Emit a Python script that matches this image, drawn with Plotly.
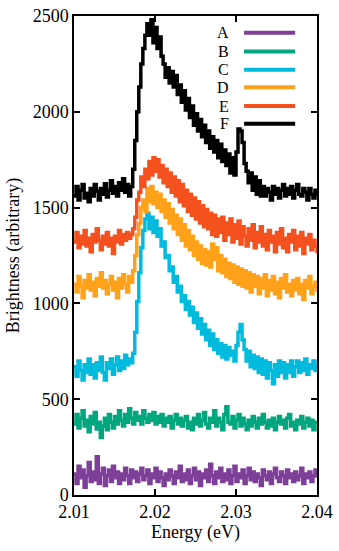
import numpy as np
import plotly.graph_objects as go

# spectra (arbitrary brightness units)
labels = ['A', 'B', 'C', 'D', 'E', 'F']
colors = ['#7e3f98', '#00a67e', '#00bbdd', '#ffa21a', '#f4511e', '#000000']

series_a = [110, 60, 150, 90, 130, 40, 100, 170, 70, 120,
            80, 200, 60, 110, 140, 50, 100, 130, 70, 150,
            90, 120, 60, 110, 80, 140, 100, 60, 130, 90,
            120, 70, 110, 140, 80, 100, 130, 60, 110, 90,
            140, 70, 120, 90, 50, 110, 80, 130, 100, 60,
            120, 90, 150, 70, 110, 80, 130, 60, 100, 140,
            80, 120, 50, 110, 90, 130, 70, 160, 100, 60,
            120, 90, 140, 70, 110, 80, 130, 60, 100, 150,
            70, 110, 90, 130, 60, 100, 140, 80, 120, 70,
            110, 90, 50, 130, 100, 80, 120, 60, 110, 140,
            90, 70, 120, 100, 60, 130, 90, 110, 70, 120,
            80, 100, 140, 60, 110, 90, 120, 70, 100, 130,
            90]

series_b = [370, 420, 350, 400, 440, 360, 390, 330, 410, 370,
            430, 345, 380, 300, 360, 400, 340, 420, 380, 350,
            410, 370, 440, 390, 360, 420, 380, 450, 400, 370,
            430, 390, 410, 370, 440, 400, 380, 420, 390, 430,
            370, 410, 380, 420, 360, 400, 380, 410, 350, 390,
            420, 370, 400, 360, 390, 410, 350, 380, 340, 400,
            370, 420, 360, 390, 430, 370, 350, 400, 380, 440,
            360, 400, 380, 340, 420, 460, 380, 370, 410, 350,
            390, 420, 360, 400, 370, 340, 390, 360, 410, 380,
            350, 400, 370, 420, 380, 350, 390, 360, 400, 340,
            380, 410, 370, 390, 350, 400, 420, 360, 380, 340,
            390, 370, 410, 350, 380, 400, 360, 390, 340, 380,
            370]

series_c = [670, 620, 700, 650, 600, 680, 640, 710, 630, 680,
            610, 690, 650, 720, 640, 600, 690, 660, 710, 630,
            680, 720, 650, 700, 660, 730, 680, 710, 690, 740,
            850, 1010, 1160, 1290, 1380, 1440, 1470, 1390, 1450, 1370,
            1430, 1350, 1390, 1300, 1320, 1240, 1250, 1170, 1190, 1110,
            1140, 1060, 1090, 1010, 1040, 970, 1010, 940, 980, 900,
            950, 870, 920, 840, 890, 810, 860, 780, 840, 760,
            810, 740, 790, 720, 780, 710, 770, 730, 750, 700,
            780, 850, 890, 810, 760, 700, 750, 670, 730, 660,
            720, 640, 710, 630, 700, 610, 690, 650, 580, 680,
            620, 700, 640, 690, 610, 680, 640, 700, 620, 670,
            700, 640, 690, 650, 710, 630, 680, 660, 700, 650,
            690]

series_d = [1100, 1060, 1140, 1090, 1030, 1120, 1080, 1150, 1070, 1110,
            1040, 1130, 1090, 1160, 1080, 1120, 1050, 1100, 1140, 1070,
            1110, 1030, 1130, 1080, 1150, 1100, 1060, 1140, 1110, 1170,
            1250, 1360, 1420, 1500, 1540, 1480, 1600, 1530, 1610, 1520,
            1580, 1500, 1570, 1480, 1540, 1450, 1520, 1420, 1490, 1390,
            1460, 1360, 1440, 1330, 1410, 1300, 1380, 1280, 1350, 1250,
            1320, 1230, 1300, 1210, 1280, 1200, 1270, 1190, 1310, 1230,
            1290, 1170, 1250, 1160, 1230, 1140, 1210, 1130, 1200, 1110,
            1190, 1100, 1180, 1090, 1170, 1080, 1160, 1060, 1150, 1090,
            1140, 1050, 1130, 1080, 1150, 1040, 1120, 1070, 1140, 1050,
            1110, 1030, 1130, 1080, 1150, 1060, 1100, 1040, 1120, 1070,
            1130, 1050, 1100, 1020, 1120, 1080, 1140, 1050, 1090, 1110,
            1060]

series_e = [1320, 1370, 1290, 1350, 1310, 1380, 1300, 1340, 1270, 1360,
            1320, 1390, 1330, 1280, 1350, 1310, 1370, 1300, 1340, 1260,
            1350, 1320, 1380, 1310, 1360, 1330, 1370, 1340, 1360, 1390,
            1450, 1540, 1580, 1660, 1610, 1700, 1650, 1740, 1670, 1760,
            1690, 1750, 1660, 1720, 1630, 1700, 1610, 1680, 1580, 1660,
            1560, 1640, 1530, 1620, 1510, 1590, 1480, 1570, 1460, 1550,
            1440, 1530, 1420, 1510, 1400, 1490, 1390, 1470, 1360, 1460,
            1350, 1440, 1370, 1450, 1330, 1420, 1360, 1440, 1320, 1410,
            1340, 1430, 1310, 1400, 1350, 1300, 1390, 1330, 1410, 1290,
            1370, 1320, 1400, 1300, 1360, 1280, 1380, 1320, 1350, 1270,
            1370, 1310, 1390, 1290, 1340, 1270, 1360, 1320, 1380, 1280,
            1350, 1300, 1370, 1260, 1340, 1310, 1360, 1280, 1330, 1300,
            1260]

series_f = [1560, 1610, 1540, 1590, 1620, 1550, 1575, 1530, 1600, 1560,
            1620, 1585, 1540, 1600, 1570, 1625, 1555, 1590, 1640, 1575,
            1610, 1560, 1630, 1590, 1650, 1580, 1620, 1560, 1610,
            1700, 1850, 2000, 2130, 2250, 2330, 2400,
            2460, 2400, 2480, 2360, 2440, 2330, 2390, 2290, 2250, 2180,
            2230, 2150, 2210, 2130, 2190, 2090, 2140, 2050, 2110, 2010,
            2070, 1970, 2030, 1930, 1990, 1900, 1960, 1870, 1930, 1840,
            1900, 1810, 1870, 1790, 1850, 1760, 1830, 1740, 1800, 1720,
            1780, 1680, 1760, 1670, 1790, 1910, 1900, 1840, 1730, 1690,
            1630, 1680, 1590, 1660, 1570, 1640, 1560,
            1610, 1560, 1600, 1580, 1540, 1610, 1570, 1600, 1550, 1590,
            1620, 1560, 1600, 1570, 1610, 1550, 1590, 1620, 1570, 1560,
            1600, 1580, 1540, 1600, 1570, 1550, 1590, 1560]

all_series = [series_a, series_b, series_c, series_d, series_e, series_f]

font = 'Liberation Serif'

fig = go.Figure()
for lab, col, ys in zip(labels, colors, all_series):
    energy = np.linspace(2.01, 2.04, len(ys))
    fig.add_trace(go.Scatter(x=energy, y=ys, mode='lines', name=lab,
                             line=dict(color=col, width=3.5, shape='hv'),
                             showlegend=False))

# legend drawn by hand: letter on the left, line sample on the right
legend_y = [0.965, 0.926, 0.888, 0.851, 0.812, 0.775]
for lab, col, yy in zip(labels, colors, legend_y):
    fig.add_annotation(x=0.648, y=yy, xref='paper', yref='paper', text=lab,
                       showarrow=False, xanchor='right', yanchor='middle',
                       font=dict(family=font, size=16, color='black'))
    fig.add_shape(type='line', xref='paper', yref='paper',
                  x0=0.70, x1=0.91, y0=yy, y1=yy,
                  line=dict(color=col, width=4))

axis_style = dict(showline=True, linecolor='black', linewidth=1.5, mirror='ticks',
                  ticks='inside', ticklen=6, tickwidth=1.5, tickcolor='black',
                  showgrid=False, zeroline=False, ticklabeloverflow='allow',
                  tickfont=dict(family=font, size=18, color='black'))

fig.update_xaxes(range=[2.01, 2.04], tickvals=[2.01, 2.02, 2.03, 2.04],
                 ticktext=['2.01', '2.02', '2.03', '2.04'],
                 title=dict(text='Energy (eV)', font=dict(family=font, size=18, color='black'),
                            standoff=4),
                 **axis_style)
fig.update_yaxes(range=[0, 2500], tickvals=[0, 500, 1000, 1500, 2000, 2500],
                 title=dict(text='Brightness (arbitrary)', font=dict(family=font, size=18, color='black'),
                            standoff=8),
                 **axis_style)

fig.update_layout(width=339, height=551, plot_bgcolor='white', paper_bgcolor='white',
                  font=dict(family=font, color='black'),
                  margin=dict(l=74, r=19, t=6, b=56))

fig.write_html('out.html', config={'displayModeBar': False},
               post_script="document.body.style.margin='0';")
